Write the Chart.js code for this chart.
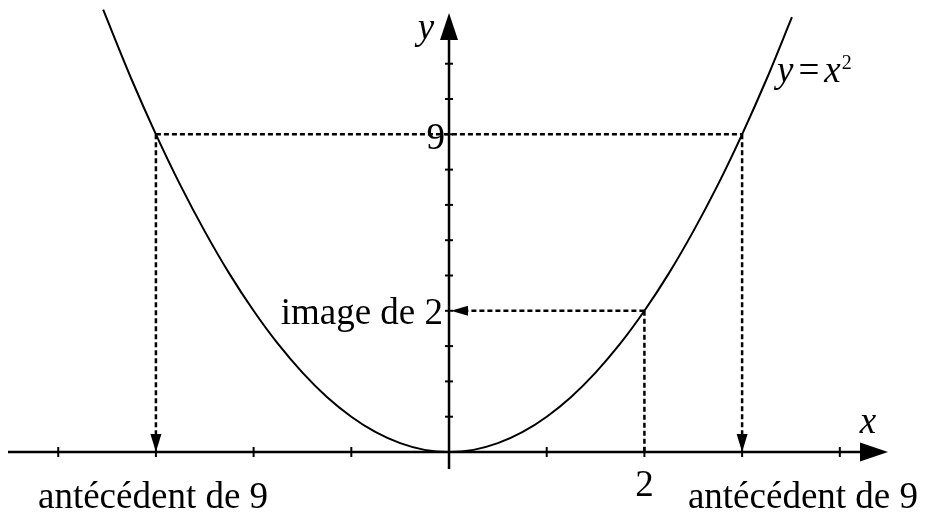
<!DOCTYPE html>
<html>
<head>
<meta charset="utf-8">
<script src="https://cdn.jsdelivr.net/npm/chart.js@4"></script>
<style>
  html, body { margin: 0; padding: 0; background: #fff; }
  #wrap { width: 925px; height: 515px; }
</style>
</head>
<body>
<div id="wrap"><canvas id="chart" width="925" height="515"></canvas></div>
<script>
// parabola y = x^2
const curveX = [-3.54, -3.25, -3, -2.75, -2.5, -2.25, -2, -1.75, -1.5, -1.25, -1, -0.75, -0.5, -0.25, 0,
  0.25, 0.5, 0.75, 1, 1.25, 1.5, 1.75, 2, 2.25, 2.5, 2.75, 3, 3.25, 3.51];
const curveY = [12.53, 10.56, 9, 7.56, 6.25, 5.06, 4, 3.06, 2.25, 1.56, 1, 0.56, 0.25, 0.06, 0,
  0.06, 0.25, 0.56, 1, 1.56, 2.25, 3.06, 4, 5.06, 6.25, 7.56, 9, 10.56, 12.32];

const xTicks = [-4, -3, -2, -1, 1, 2, 3, 4];
const yTicks = [1, 2, 3, 4, 5, 6, 7, 8, 9, 10, 11];

const antecedents = [-3, 3];
const level = 9;
const imageX = 2;
const imageY = 4;

const FONT = '"Liberation Serif", "Times New Roman", serif';
const SIZE = 37;

const points = curveX.map((x, i) => ({ x, y: curveY[i] }));

const dash = [5, 3];
function guide(data) {
  return { data, showLine: true, borderColor: "#000", borderWidth: 2.5, borderDash: dash, pointRadius: 0, tension: 0 };
}

const overlay = {
  id: "overlay",
  beforeDatasetsDraw(chart) {
    const { ctx } = chart;
    const sx = chart.scales.x, sy = chart.scales.y;
    const ox = sx.getPixelForValue(0), oy = sy.getPixelForValue(0);
    ctx.save();
    ctx.strokeStyle = "#000";
    ctx.fillStyle = "#000";
    ctx.lineWidth = 2.5;
    // x axis
    ctx.beginPath();
    ctx.moveTo(8, oy);
    ctx.lineTo(862, oy);
    ctx.stroke();
    ctx.beginPath();
    ctx.moveTo(888, oy);
    ctx.lineTo(860, oy - 9.5);
    ctx.lineTo(860, oy + 9.5);
    ctx.closePath();
    ctx.fill();
    // y axis
    ctx.beginPath();
    ctx.moveTo(ox, 469);
    ctx.lineTo(ox, 38);
    ctx.stroke();
    ctx.beginPath();
    ctx.moveTo(ox, 13);
    ctx.lineTo(ox - 9, 40);
    ctx.lineTo(ox + 9, 40);
    ctx.closePath();
    ctx.fill();
    // ticks
    ctx.lineWidth = 2;
    xTicks.forEach((v) => {
      const px = sx.getPixelForValue(v);
      ctx.beginPath();
      ctx.moveTo(px, oy - 5);
      ctx.lineTo(px, oy + 5);
      ctx.stroke();
    });
    yTicks.forEach((v) => {
      const py = sy.getPixelForValue(v);
      ctx.beginPath();
      ctx.moveTo(ox - 4, py);
      ctx.lineTo(ox + 4, py);
      ctx.stroke();
    });
    ctx.restore();
  },
  afterDatasetsDraw(chart) {
    const { ctx } = chart;
    const sx = chart.scales.x, sy = chart.scales.y;
    const ox = sx.getPixelForValue(0), oy = sy.getPixelForValue(0);
    ctx.save();
    ctx.fillStyle = "#000";
    // down arrows at the antecedents
    antecedents.forEach((a) => {
      const px = sx.getPixelForValue(a);
      ctx.beginPath();
      ctx.moveTo(px, oy);
      ctx.lineTo(px - 5.5, oy - 18);
      ctx.lineTo(px + 5.5, oy - 18);
      ctx.closePath();
      ctx.fill();
    });
    // left arrow to the image
    const iy = sy.getPixelForValue(imageY);
    ctx.beginPath();
    ctx.moveTo(ox + 2, iy);
    ctx.lineTo(ox + 19, iy - 5);
    ctx.lineTo(ox + 19, iy + 5);
    ctx.closePath();
    ctx.fill();

    // labels
    ctx.textBaseline = "alphabetic";
    ctx.font = `italic ${SIZE}px ${FONT}`;
    ctx.textAlign = "center";
    ctx.fillText("y", ox - 23, 39);
    ctx.fillText("x", 868, 433);

    ctx.font = `${SIZE}px ${FONT}`;
    ctx.textAlign = "right";
    ctx.fillText("9", ox - 4, sy.getPixelForValue(level) + 15);
    ctx.fillText("image de 2", ox - 6, iy + 13);
    ctx.textAlign = "center";
    ctx.fillText("2", sx.getPixelForValue(imageX), 496);
    ctx.textAlign = "left";
    ctx.fillText("antécédent de 9", 38, 508);
    ctx.textAlign = "right";
    ctx.fillText("antécédent de 9", 918, 508);

    // y = x^2
    ctx.textAlign = "left";
    let tx = 777;
    const ty = 82;
    ctx.font = `italic ${SIZE}px ${FONT}`;
    ctx.fillText("y", tx, ty);
    tx += ctx.measureText("y").width + 5;
    ctx.font = `${SIZE}px ${FONT}`;
    ctx.fillText("=", tx, ty);
    tx += ctx.measureText("=").width + 5;
    ctx.font = `italic ${SIZE}px ${FONT}`;
    ctx.fillText("x", tx, ty);
    tx += ctx.measureText("x").width + 1;
    ctx.font = `20px ${FONT}`;
    ctx.fillText("2", tx, ty - 13);
    ctx.restore();
  },
};

new Chart(document.getElementById("chart"), {
  type: "scatter",
  data: {
    datasets: [
      { data: points, showLine: true, borderColor: "#000", borderWidth: 2, pointRadius: 0, cubicInterpolationMode: "monotone" },
      guide([{ x: antecedents[0], y: level }, { x: antecedents[1], y: level }]),
      guide([{ x: antecedents[0], y: level }, { x: antecedents[0], y: 0.45 }]),
      guide([{ x: antecedents[1], y: level }, { x: antecedents[1], y: 0.45 }]),
      guide([{ x: imageX, y: imageY }, { x: imageX, y: 0 }]),
      guide([{ x: imageX, y: imageY }, { x: 0.18, y: imageY }]),
    ],
  },
  options: {
    responsive: false,
    animation: false,
    devicePixelRatio: 1,
    layout: { padding: 0 },
    plugins: { legend: { display: false }, tooltip: { enabled: false } },
    scales: {
      x: { type: "linear", display: false, min: -4.596, max: 4.872 },
      y: { type: "linear", display: false, min: -1.785, max: 12.805 },
    },
  },
  plugins: [overlay],
});
</script>
</body>
</html>
